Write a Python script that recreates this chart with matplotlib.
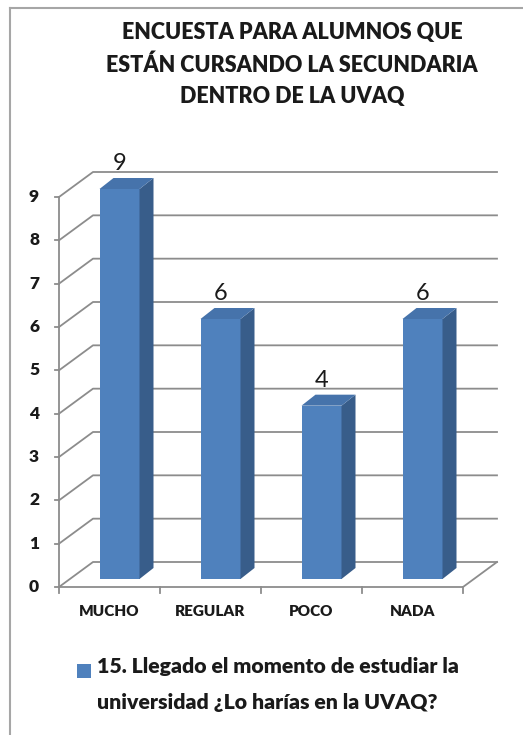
import matplotlib.pyplot as plt
from matplotlib.patches import Polygon, Rectangle
from matplotlib.lines import Line2D

# datos
categorias = ['MUCHO', 'REGULAR', 'POCO', 'NADA']
valores = [9, 6, 4, 6]
ticks_y = list(range(0, 10))
titulo = ['ENCUESTA PARA ALUMNOS QUE',
          'ESTÁN CURSANDO LA SECUNDARIA',
          'DENTRO DE LA UVAQ']
serie = ['15. Llegado el momento de estudiar la',
         'universidad ¿Lo harías en la UVAQ?']

plt.rcParams['font.family'] = ['Lato', 'DejaVu Sans']

W, H = 523, 735
fig = plt.figure(figsize=(W / 100, H / 100), dpi=100)
fig.patch.set_facecolor('white')

# plano frontal del grafico
ax = fig.add_axes([59 / W, 1 - 587 / H, 404 / W, 390 / H])
ax.set_xlim(0, len(categorias))
ax.set_ylim(0, max(ticks_y))
ax.axis('off')

# pixeles por unidad
px_x = ax.bbox.width / len(categorias)
px_y = ax.bbox.height / max(ticks_y)

gris = '#8c8c8c'
azul = '#4f81bd'
azul_lado = '#385d8a'
azul_arriba = '#4673ab'
negro = '#1a1a1a'

# profundidad de la pared
dwx, dwy = 34 / px_x, 25 / px_y
n = len(categorias)

# rejilla (pared izquierda + pared del fondo)
for v in ticks_y:
    ax.plot([0, dwx, n + dwx], [v, v + dwy, v + dwy], color=gris, lw=1.3,
            clip_on=False, zorder=1)
    ax.plot([-4 / px_x, 0], [v, v], color=gris, lw=1.3, clip_on=False)
    ax.text(-25 / px_x, v, str(v), ha='center', va='center',
            fontsize=12.5, fontweight='heavy', color=negro)

# piso y eje
ax.plot([0, 0], [0, max(ticks_y)], color=gris, lw=1.3, clip_on=False)
ax.plot([0, n, n + dwx], [0, 0, dwy], color=gris, lw=1.3, clip_on=False)
for i in range(n + 1):
    ax.plot([i, i], [0, -6 / px_y], color=gris, lw=1.3, clip_on=False)

# barras 3d
w = 40 / px_x
fx, fy = 10 / px_x, 8 / px_y
bx, by = 14 / px_x, 11 / px_y
for i, v in enumerate(valores):
    x0 = i + 0.5 - w / 2 + fx
    ax.add_patch(Rectangle((x0, fy), w, v, facecolor=azul, edgecolor='none',
                           clip_on=False, zorder=3))
    ax.add_patch(Polygon([(x0 + w, fy), (x0 + w + bx, fy + by),
                          (x0 + w + bx, v + fy + by), (x0 + w, v + fy)],
                         facecolor=azul_lado, edgecolor='none',
                         clip_on=False, zorder=3))
    ax.add_patch(Polygon([(x0, v + fy), (x0 + bx, v + fy + by),
                          (x0 + w + bx, v + fy + by), (x0 + w, v + fy)],
                         facecolor=azul_arriba, edgecolor='none',
                         clip_on=False, zorder=3))
    ax.text(x0 + w / 2, v + fy + by + 8 / px_y, str(v), ha='center',
            va='baseline', fontsize=17, color=negro)
    ax.text(i + 0.5, -25 / px_y, categorias[i], ha='center', va='center',
            fontsize=11, fontweight='heavy', color=negro)

# titulo
for k, linea in enumerate(titulo):
    fig.text(292 / W, 1 - (33 + 32 * k) / H, linea, ha='center', va='center',
             fontsize=15.5, fontweight='heavy', color=negro)

# leyenda
fig.add_artist(Rectangle((77 / W, 1 - 678 / H), 14 / W, 14 / H,
                         facecolor=azul, edgecolor='none'))
for k, linea in enumerate(serie):
    fig.text(97 / W, 1 - (667 + 35 * k) / H, linea, ha='left', va='center',
             fontsize=15.3, fontweight='heavy', color=negro)

# borde del area del grafico
fig.add_artist(Line2D([10 / W, 1], [1 - 8 / H, 1 - 8 / H], color='#a6a6a6', lw=1.5))
fig.add_artist(Line2D([10 / W, 10 / W], [0, 1 - 8 / H], color='#a6a6a6', lw=1.5))

fig.savefig('out.png', dpi=100)
